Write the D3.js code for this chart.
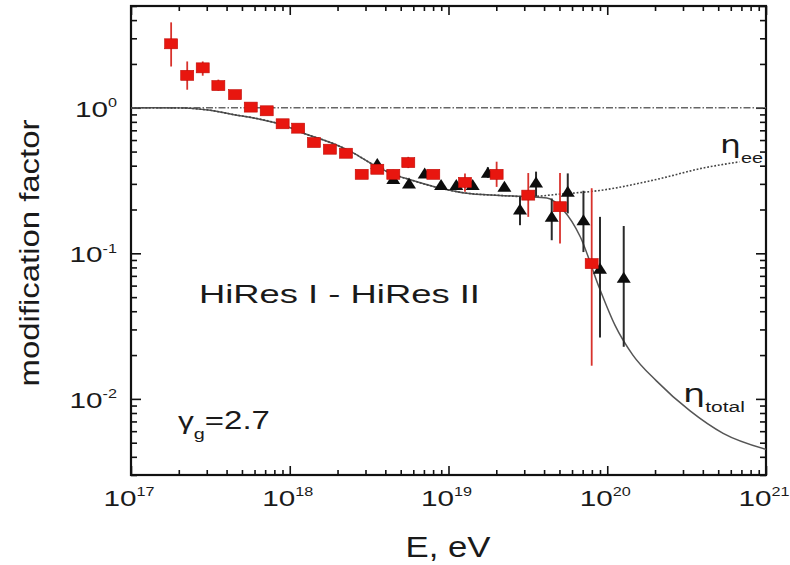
<!DOCTYPE html>
<html>
<head>
<meta charset="utf-8">
<script src="https://cdn.jsdelivr.net/npm/d3@7"></script>
<style>
  body { margin: 0; background: #fff; }
  text { font-family: "Liberation Sans", Arial, sans-serif; fill: #1a1a1a; }
</style>
</head>
<body>
<svg id="chart" width="790" height="565"></svg>
<script>
// HiRes I (red squares): energy in eV, modification factor, error low / high
const hiresIEnergy = [1.79e17, 2.26e17, 2.83e17, 3.55e17, 4.52e17, 5.68e17, 7.16e17, 9.02e17, 1.13e18, 1.42e18, 1.79e18,
  2.26e18, 2.84e18, 3.56e18, 4.49e18, 5.58e18, 8.02e18, 1.27e19, 2.01e19, 3.18e19, 5.04e19, 7.98e19]
const hiresIEta = [2.75, 1.67, 1.88, 1.42, 1.23, 1.01, 0.953, 0.776, 0.724, 0.577, 0.519,
  0.487, 0.349, 0.378, 0.349, 0.42, 0.349, 0.307, 0.349, 0.251, 0.209, 0.085]
const hiresILow = [1.92, 1.33, 1.66, 1.31, 1.18, 0.97, 0.92, 0.75, 0.70, 0.56, 0.50,
  0.47, 0.33, 0.355, 0.325, 0.385, 0.33, 0.265, 0.286, 0.178, 0.117, 0.0169]
const hiresIHigh = [3.86, 2.08, 2.08, 1.56, 1.29, 1.05, 0.99, 0.80, 0.75, 0.60, 0.54,
  0.51, 0.37, 0.40, 0.375, 0.46, 0.37, 0.354, 0.426, 0.356, 0.356, 0.28]

// HiRes II (black triangles)
const hiresIIEnergy = [3.56e18, 4.49e18, 5.64e18, 7.08e18, 8.98e18, 1.12e19, 1.42e19, 1.77e19, 2.25e19, 2.82e19,
  3.56e19, 4.47e19, 5.64e19, 7.08e19, 9.0e19, 1.27e20]
const hiresIIEta = [0.411, 0.324, 0.302, 0.354, 0.295, 0.295, 0.295, 0.358, 0.287, 0.20,
  0.306, 0.178, 0.265, 0.169, 0.0783, 0.068]
const hiresIILow = [0.395, 0.31, 0.29, 0.34, 0.285, 0.285, 0.285, 0.33, 0.275, 0.156,
  0.245, 0.123, 0.188, 0.102, 0.0264, 0.0228]
const hiresIIHigh = [0.425, 0.34, 0.315, 0.37, 0.305, 0.305, 0.305, 0.39, 0.30, 0.245,
  0.364, 0.238, 0.354, 0.269, 0.178, 0.154]

// model curves
const totalEnergy = [1e17, 2e17, 3.16e17, 4.37e17, 6.31e17, 9.12e17, 1.26e18, 1.86e18, 2.51e18, 3.31e18, 4.47e18,
  5.75e18, 8.91e18, 1.26e19, 2.09e19, 3.16e19, 4.17e19, 5.25e19, 6.76e19, 8.91e19, 1.12e20, 1.45e20,
  2.04e20, 3.31e20, 5.37e20, 1e21]
const totalEta = [1.0, 0.998, 0.96, 0.9, 0.84, 0.76, 0.66, 0.57, 0.49, 0.41, 0.35,
  0.32, 0.28, 0.26, 0.25, 0.245, 0.24, 0.20, 0.13, 0.058, 0.032, 0.02,
  0.0133, 0.0083, 0.0058, 0.0045]
const eeEnergy = [1e17, 2e17, 3.16e17, 4.37e17, 6.31e17, 9.12e17, 1.26e18, 1.86e18, 2.51e18, 3.31e18, 4.47e18,
  5.75e18, 8.91e18, 1.26e19, 2.09e19, 3.16e19, 5.01e19, 8.91e19, 2e20, 4e20, 6.8e20]
const eeEta = [1.0, 0.998, 0.96, 0.9, 0.84, 0.76, 0.66, 0.57, 0.49, 0.41, 0.35,
  0.32, 0.28, 0.26, 0.25, 0.245, 0.255, 0.27, 0.32, 0.385, 0.425]
const unityLine = [[1e17, 1], [1e21, 1]]

const xTicks = [1e17, 1e18, 1e19, 1e20, 1e21]
const xTickExp = ["17", "18", "19", "20", "21"]
const yTicks = [1e-2, 1e-1, 1]
const yTickExp = ["-2", "-1", "0"]

const svg = d3.select('#chart')
const LEFT = 131, RIGHT = 766, TOP = 6, BOTTOM = 475

let x = d3.scaleLog().domain([1e17, 1e21]).range([LEFT, RIGHT])
let y = d3.scaleLog().domain([3e-3, 5]).range([BOTTOM, TOP])

// minor tick values
let xMinor = []
for (let d = 17; d < 21; d++) for (let m = 2; m <= 9; m++) xMinor.push(m * Math.pow(10, d))
let yMinor = []
for (let d = -3; d <= 0; d++) for (let m = 2; m <= 9; m++) {
  let v = m * Math.pow(10, d)
  if (v >= 3e-3 && v <= 5) yMinor.push(v)
}

function drawAxis (axisFn, scale, values, size, transform) {
  svg.append('g')
    .attr('transform', transform)
    .call(axisFn(scale).tickValues(values).tickSize(-size).tickSizeOuter(0).tickFormat(''))
    .call(g => g.select('.domain').remove())
    .call(g => g.selectAll('line').attr('stroke', '#111').attr('stroke-width', 1.6))
}

drawAxis(d3.axisBottom, x, xMinor, 5, `translate(0,${BOTTOM})`)
drawAxis(d3.axisBottom, x, xTicks, 9, `translate(0,${BOTTOM})`)
drawAxis(d3.axisTop, x, xMinor, 5, `translate(0,${TOP})`)
drawAxis(d3.axisTop, x, xTicks, 9, `translate(0,${TOP})`)
drawAxis(d3.axisLeft, y, yMinor, 6, `translate(${LEFT},0)`)
drawAxis(d3.axisLeft, y, yTicks, 10, `translate(${LEFT},0)`)
drawAxis(d3.axisRight, y, yMinor, 6, `translate(${RIGHT},0)`)
drawAxis(d3.axisRight, y, yTicks, 10, `translate(${RIGHT},0)`)

svg.append('rect')
  .attr('x', LEFT).attr('y', TOP)
  .attr('width', RIGHT - LEFT).attr('height', BOTTOM - TOP)
  .attr('fill', 'none').attr('stroke', '#111').attr('stroke-width', 2.2)

// text helper: stretch horizontally like the scanned figure
function label (parent, px, py, anchor, sx, rot) {
  let g = parent.append('g')
    .attr('transform', `translate(${px},${py})` + (rot ? ` rotate(${rot})` : '') + ` scale(${sx},1)`)
  return g.append('text').attr('text-anchor', anchor)
}

function fitWidth (textSel, width) {
  let node = textSel.node()
  let w = node.getBBox().width
  let g = d3.select(node.parentNode)
  let t = g.attr('transform').replace(/scale\([^)]*\)/, `scale(${width / w},1)`)
  g.attr('transform', t)
}

// tick labels
const SX = 1.35
xTicks.forEach((v, i) => {
  let t = label(svg, x(v) - 2, 506, 'middle', SX)
  t.append('tspan').attr('font-size', 22).text('10')
  t.append('tspan').attr('font-size', 12).attr('dy', -10.5).text(xTickExp[i])
})
yTicks.forEach((v, i) => {
  let t = label(svg, 117, y(v) + 9, 'end', SX)
  t.append('tspan').attr('font-size', 22).text('10')
  t.append('tspan').attr('font-size', 12).attr('dy', -9.5).text(yTickExp[i])
})

// axis titles
let yTitle = label(svg, 39, 253, 'middle', 1, -90).attr('font-size', 27).text('modification factor')
fitWidth(yTitle, 267)
let xTitle = label(svg, 448, 557, 'middle', 1).attr('font-size', 30).text('E, eV')
fitWidth(xTitle, 85)

// reference line at 1
svg.append('path')
  .datum(unityLine)
  .attr('fill', 'none')
  .attr('stroke', '#666')
  .attr('stroke-width', 1.6)
  .attr('stroke-dasharray', '7,2,1.5,2')
  .attr('d', d3.line().x(d => x(d[0])).y(d => y(d[1])))

// model curves
svg.append('path')
  .datum(totalEnergy.map((e, i) => [e, totalEta[i]]))
  .attr('fill', 'none')
  .attr('stroke', '#555')
  .attr('stroke-width', 1.5)
  .attr('d', d3.line().curve(d3.curveMonotoneX).x(d => x(d[0])).y(d => y(d[1])))

svg.append('path')
  .datum(eeEnergy.map((e, i) => [e, eeEta[i]]))
  .attr('fill', 'none')
  .attr('stroke', '#444')
  .attr('stroke-width', 1.6)
  .attr('stroke-dasharray', '1.8,1.8')
  .attr('d', d3.line().curve(d3.curveMonotoneX).x(d => x(d[0])).y(d => y(d[1])))

// HiRes II error bars + triangles
let hires2 = hiresIIEnergy.map((e, i) => ({e: e, v: hiresIIEta[i], lo: hiresIILow[i], hi: hiresIIHigh[i]}))
let hires1 = hiresIEnergy.map((e, i) => ({e: e, v: hiresIEta[i], lo: hiresILow[i], hi: hiresIHigh[i]}))

svg.append('g').selectAll('line')
  .data(hires2)
  .join('line')
  .attr('x1', d => x(d.e)).attr('x2', d => x(d.e))
  .attr('y1', d => y(d.lo)).attr('y2', d => y(d.hi))
  .attr('stroke', '#2a2a2a')
  .attr('stroke-width', 2)

svg.append('g').selectAll('path')
  .data(hires2)
  .join('path')
  .attr('d', d => `M${x(d.e) - 7},${y(d.v) + 5}L${x(d.e) + 7},${y(d.v) + 5}L${x(d.e)},${y(d.v) - 6}Z`)
  .attr('fill', '#0d0d0d')

// HiRes I error bars + squares
svg.append('g').selectAll('line')
  .data(hires1)
  .join('line')
  .attr('x1', d => x(d.e)).attr('x2', d => x(d.e))
  .attr('y1', d => y(d.lo)).attr('y2', d => y(d.hi))
  .attr('stroke', '#d8322c')
  .attr('stroke-width', 1.8)

svg.append('g').selectAll('rect')
  .data(hires1)
  .join('rect')
  .attr('x', d => x(d.e) - 6.5)
  .attr('y', d => y(d.v) - 5)
  .attr('width', 13)
  .attr('height', 10)
  .attr('fill', '#e8160f')
  .attr('stroke', '#c00a05')
  .attr('stroke-width', 0.6)

// annotations
let title = label(svg, 199, 303, 'start', 1).attr('font-size', 25).text('HiRes I - HiRes II')
fitWidth(title, 281)

let gamma = label(svg, 178, 429, 'start', 1)
gamma.append('tspan').attr('font-size', 24).text('γ')
gamma.append('tspan').attr('font-size', 15).attr('dy', 10).text('g')
gamma.append('tspan').attr('font-size', 25).attr('dy', -10).text('=2.7')
fitWidth(gamma, 92)

let etaEE = label(svg, 720, 153, 'start', 1)
etaEE.append('tspan').attr('font-size', 25).attr('font-family', 'DejaVu Sans').text('η')
etaEE.append('tspan').attr('font-size', 15).attr('dy', 10).text('ee')
fitWidth(etaEE, 43)

let etaTot = label(svg, 683, 402, 'start', 1)
etaTot.append('tspan').attr('font-size', 25).attr('font-family', 'DejaVu Sans').text('η')
etaTot.append('tspan').attr('font-size', 15).attr('dy', 10).text('total')
fitWidth(etaTot, 62)
</script>
</body>
</html>
